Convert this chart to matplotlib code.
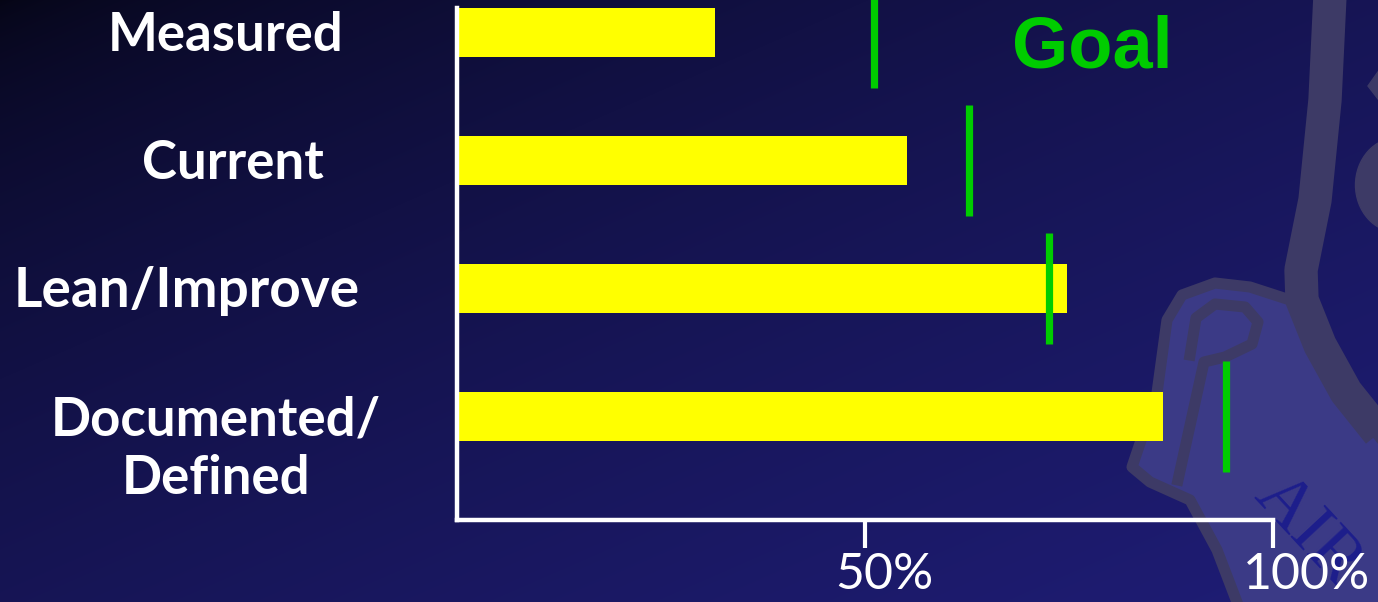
import numpy as np
import matplotlib
matplotlib.use('Agg')
import matplotlib.pyplot as plt
from matplotlib.patches import Polygon, Ellipse
from matplotlib.transforms import blended_transform_factory, ScaledTranslation

# Process maturity levels, actual vs goal (% of processes)
categories = ['Measured', 'Current', 'Lean/Improve', 'Documented/\nDefined']
actual = [31.6, 55.1, 74.8, 86.5]
goal = [51.1, 62.7, 72.5, 94.2]
tick_values = [50, 100]
tick_labels = ['50%', '100%']

W, H, DPI = 1378, 602, 100
fig = plt.figure(figsize=(W / DPI, H / DPI), dpi=DPI)

# background: dark navy gradient plus faint seal in the corner
bg = fig.add_axes([0, 0, 1, 1], zorder=-1)
bg.set_xlim(0, W)
bg.set_ylim(H, 0)
bg.axis('off')
xx, yy = np.meshgrid(np.linspace(0, 1, W), np.linspace(0, 1, H))
t = np.clip(0.5 * xx + 0.5 * yy, 0, 1) ** 0.6
c0 = np.array([5, 5, 20]) / 255
c1 = np.array([31, 29, 118]) / 255
img = c0 + (c1 - c0) * t[..., None]
bg.imshow(img, extent=[0, W, H, 0], aspect='auto', interpolation='bilinear')

seal_edge = '#3d3a66'
seal_fill = '#3b3a86'
scroll = Polygon([(1132, 467), (1157, 393), (1167, 320), (1182, 295), (1215, 283),
                  (1250, 287), (1290, 300), (1322, 350), (1350, 400), (1390, 450),
                  (1390, 610), (1240, 610), (1217, 550), (1190, 500), (1150, 482)],
                 closed=True, facecolor=seal_fill, edgecolor=seal_edge, lw=8,
                 joinstyle='round', zorder=2)
bg.add_patch(scroll)
ring_x = [1330, 1325, 1315, 1301, 1302, 1320, 1346, 1390]
ring_y = [-5, 100, 200, 270, 300, 345, 392, 447]
bg.plot(ring_x, ring_y, color=seal_edge, lw=24, solid_capstyle='butt',
        solid_joinstyle='round', zorder=3)
# curl and fold of the scroll
bg.plot([1190, 1196, 1215, 1245, 1258, 1252, 1225, 1204, 1178],
        [355, 318, 304, 307, 322, 344, 357, 362, 480],
        color=seal_edge, lw=8, solid_joinstyle='round', zorder=3)
bg.add_patch(Ellipse((1398, 185), 85, 95, color=seal_edge, zorder=2))
bg.add_patch(Polygon([(1385, 62), (1368, 86), (1385, 108)], closed=True,
                     color=seal_edge, zorder=2))
bg.text(1252, 497, 'AIR', family='Liberation Serif', fontsize=52, color='#1d1e8c',
        rotation=-47, rotation_mode='anchor', ha='left', va='baseline', zorder=4)

# main chart
ax = fig.add_axes([457 / W, 1 - 520 / H, 816 / W, 512 / H])
ax.patch.set_alpha(0)
ypos = np.arange(len(categories))[::-1]
ax.barh(ypos, actual, height=49 / 128, left=0, color='#ffff00', zorder=2)
ax.vlines(goal, ypos - 0.434, ypos + 0.434, colors='#00cc00', lw=5.2, zorder=3,
          clip_on=False)

ax.set_xlim(0, 100)
ax.set_ylim(-(520 - 416) / 128, 3 + 24.5 / 128)
for side in ['top', 'right']:
    ax.spines[side].set_visible(False)
for side in ['left', 'bottom']:
    ax.spines[side].set_color('white')
    ax.spines[side].set_linewidth(3.2)
ax.set_yticks([])
ax.set_xticks(tick_values)
ax.set_xticklabels(tick_labels, family='Lato', fontsize=36, color='white')
ax.tick_params(axis='x', length=20, width=3, color='white', pad=3)
for lbl in ax.get_xticklabels():
    lbl.set_ha('left')
    lbl.set_transform(lbl.get_transform() + ScaledTranslation(-30 / DPI, 0, fig.dpi_scale_trans))

# category labels, one text per line
label_x = [226, 233, 187, 216]
label_size = [38, 38, 39.5, 38]
for y, name, lx, fs in zip(ypos, categories, label_x, label_size):
    for i, line in enumerate(name.split('\n')):
        tr = blended_transform_factory(fig.transFigure, ax.transData) + \
            ScaledTranslation(0, -(19 + 59 * i) / DPI, fig.dpi_scale_trans)
        ax.text(lx / W, y, line, transform=tr, ha='center', va='baseline',
                family='Lato', fontweight='bold', fontsize=fs, color='white')

fig.text(1012 / W, 1 - 67 / H, 'Goal', family='Liberation Sans', fontweight='bold',
         fontsize=52, color='#00cc00', ha='left', va='baseline')

fig.savefig('out.png', dpi=DPI)
